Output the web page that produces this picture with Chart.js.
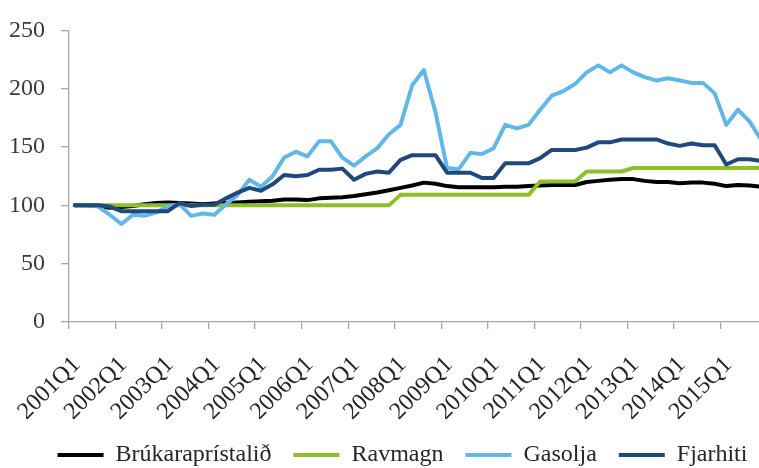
<!DOCTYPE html>
<html>
<head>
<meta charset="utf-8">
<script src="https://cdn.jsdelivr.net/npm/chart.js@4/dist/chart.umd.min.js"></script>
<style>
  html, body { margin: 0; padding: 0; background: #fff; overflow: hidden; }
  #wrap { width: 805px; height: 468px; }
</style>
</head>
<body>
<div id="wrap"><canvas id="chart" width="805" height="468"></canvas></div>
<script>
// quarters 2001Q1 - 2015Q4
const quarters = [
  '2001Q1','2001Q2','2001Q3','2001Q4','2002Q1','2002Q2','2002Q3','2002Q4',
  '2003Q1','2003Q2','2003Q3','2003Q4','2004Q1','2004Q2','2004Q3','2004Q4',
  '2005Q1','2005Q2','2005Q3','2005Q4','2006Q1','2006Q2','2006Q3','2006Q4',
  '2007Q1','2007Q2','2007Q3','2007Q4','2008Q1','2008Q2','2008Q3','2008Q4',
  '2009Q1','2009Q2','2009Q3','2009Q4','2010Q1','2010Q2','2010Q3','2010Q4',
  '2011Q1','2011Q2','2011Q3','2011Q4','2012Q1','2012Q2','2012Q3','2012Q4',
  '2013Q1','2013Q2','2013Q3','2013Q4','2014Q1','2014Q2','2014Q3','2014Q4',
  '2015Q1','2015Q2','2015Q3','2015Q4'
];

const yTicks = [0, 50, 100, 150, 200, 250];

const brukaraprisstalid = [
  100, 100, 99.5, 98, 98.5, 99.5, 101, 102, 102.5, 102, 101.5, 101,
  101.5, 102, 102.5, 103, 103.5, 104, 105, 105, 104.5, 106, 106.5, 107,
  108, 109.5, 111, 113, 115, 117, 119.5, 118.5, 116.5, 115.5, 115.5, 115.5,
  115.5, 116, 116, 116.5, 117, 117.5, 117.5, 117.5, 120, 121, 122, 122.5,
  122.5, 121, 120, 120, 119, 119.5, 119.5, 118.5, 116.5, 117.5, 117, 116
];

const ravmagn = [
  100, 100, 100, 100, 100, 100, 100, 100, 100, 100, 100, 100,
  100, 100, 100, 100, 100, 100, 100, 100, 100, 100, 100, 100,
  100, 100, 100, 100, 109, 109, 109, 109, 109, 109, 109, 109,
  109, 109, 109, 109, 120.5, 120.5, 120.5, 120.5, 129, 129, 129, 129,
  132, 132, 132, 132, 132, 132, 132, 132, 132, 132, 132, 132
];

const gasolja = [
  100, 100, 99, 92, 84, 92, 91, 94, 99, 101, 91, 93,
  92, 101, 109, 122, 116, 125, 141, 146, 142, 155, 155, 141,
  134, 142, 149, 161, 169, 203, 216, 180, 132, 131, 145, 144,
  149, 169, 166, 169, 182, 194, 198, 204, 214, 220, 214, 220,
  214, 210, 207, 209, 207, 205, 205, 196, 169, 182, 172, 156
];

const fjarhiti = [
  100, 100, 100, 99, 95, 95, 95, 95, 95, 102, 99.5, 100.5,
  100.5, 106, 111, 115, 112.5, 118, 126, 125, 126, 130.5, 130.5, 131.5,
  122, 127, 129, 128, 139, 143, 143, 143, 128, 128, 128, 123.5,
  123.5, 136, 136, 136, 140.5, 147.5, 147.5, 147.5, 149.5, 154, 154, 156.5,
  156.5, 156.5, 156.5, 153, 151, 153, 151.5, 151.5, 135, 139.5, 139.5, 138
];

const FONT = 'Liberation Serif, Times New Roman, serif';
const AXIS_GREY = '#a6a6a6';

// excel draws the first series at the bottom, so the last one gets the lowest order
function series(label, data, color, order) {
  return {
    label: label,
    data: data,
    borderColor: color,
    backgroundColor: color,
    borderWidth: 4,
    pointRadius: 0,
    pointHoverRadius: 0,
    tension: 0,
    fill: false,
    borderJoinStyle: 'round',
    borderCapStyle: 'round',
    pointStyle: 'line',
    order: order
  };
}

new Chart(document.getElementById('chart').getContext('2d'), {
  type: 'line',
  data: {
    labels: quarters,
    datasets: [
      series('Brúkaraprístalið', brukaraprisstalid, '#000000', 3),
      series('Ravmagn', ravmagn, '#8dbf26', 2),
      series('Gasolja', gasolja, '#63b7e6', 1),
      series('Fjarhiti', fjarhiti, '#1f497d', 0)
    ]
  },
  options: {
    responsive: false,
    animation: false,
    devicePixelRatio: 1,
    layout: { padding: { left: 0, right: 0, top: 8, bottom: 0 } },
    plugins: {
      tooltip: { enabled: false },
      legend: {
        position: 'bottom',
        maxHeight: 47,
        labels: {
          usePointStyle: true,
          pointStyleWidth: 46,
          padding: 22,
          color: '#262626',
          font: { family: FONT, size: 24 },
          sort: (a, b) => a.datasetIndex - b.datasetIndex
        }
      }
    },
    scales: {
      x: {
        type: 'category',
        offset: true,
        afterFit: (scale) => {
          // fixed height, and no extra room asked for the rotated first label
          scale.height = 99;
          scale.paddingLeft = 0;
          scale.paddingRight = 0;
        },
        grid: {
          offset: true,
          drawOnChartArea: false,
          drawTicks: true,
          tickLength: 7,
          lineWidth: 1.3,
          color: (ctx) => (ctx.index % 4 === 0 ? AXIS_GREY : 'rgba(0,0,0,0)')
        },
        border: { display: true, color: AXIS_GREY, width: 1.3 },
        ticks: {
          autoSkip: false,
          minRotation: 45,
          maxRotation: 45,
          padding: 22,
          labelOffset: 2,
          color: '#262626',
          font: { family: FONT, size: 24 },
          callback: (value, index) => (quarters[index].endsWith('Q1') ? quarters[index] : '')
        }
      },
      y: {
        min: 0,
        max: 250,
        afterFit: (scale) => { scale.width = 69; },
        afterBuildTicks: (scale) => { scale.ticks = yTicks.map(v => ({ value: v })); },
        grid: {
          drawOnChartArea: false,
          drawTicks: true,
          tickLength: 8,
          lineWidth: 1.3,
          color: AXIS_GREY
        },
        border: { display: true, color: AXIS_GREY, width: 1.3 },
        ticks: {
          padding: 16,
          color: '#3a3a3a',
          font: { family: FONT, size: 24 }
        }
      },
      // empty right axis: keeps the plot running past the right edge of the window
      yRight: {
        position: 'right',
        display: true,
        afterFit: (scale) => { scale.width = 38; },
        grid: { display: false },
        border: { display: false },
        ticks: { display: false }
      }
    }
  }
});
</script>
</body>
</html>
